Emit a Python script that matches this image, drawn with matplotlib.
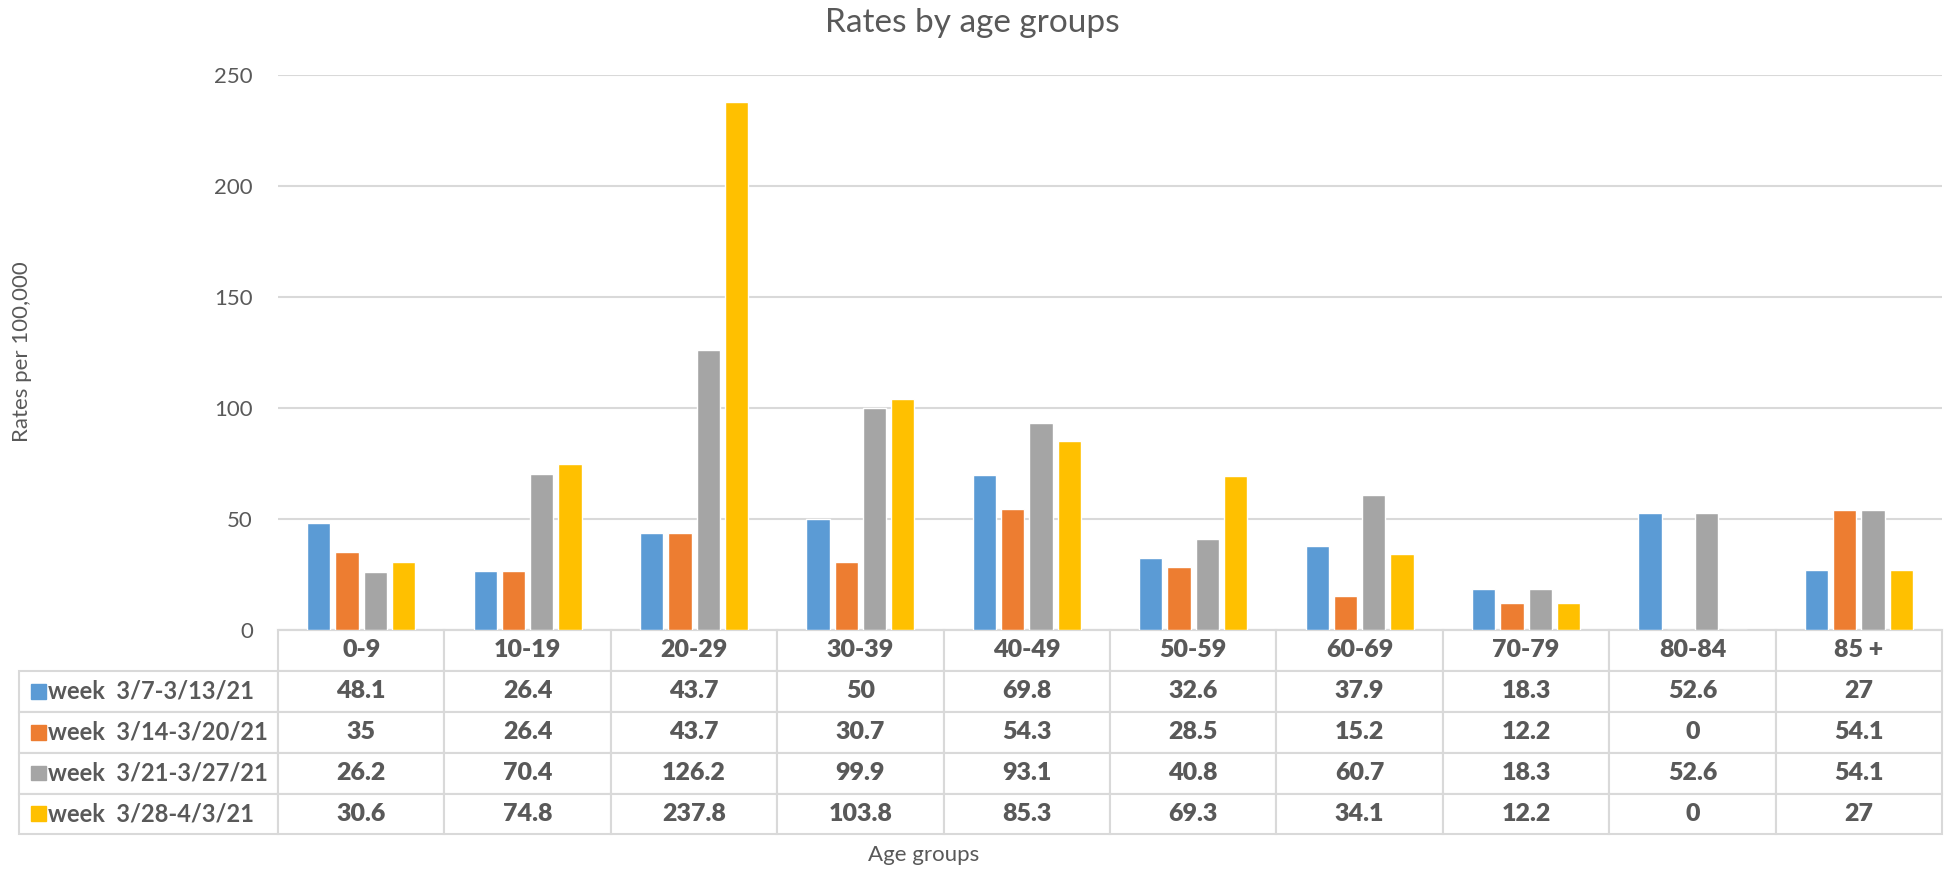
import matplotlib.pyplot as plt
import numpy as np
from matplotlib.patches import Rectangle

# data
age_groups = ['0-9', '10-19', '20-29', '30-39', '40-49', '50-59', '60-69', '70-79', '80-84', '85 +']
weeks = ['week  3/7-3/13/21', 'week  3/14-3/20/21', 'week  3/21-3/27/21', 'week  3/28-4/3/21']
wk1 = [48.1, 26.4, 43.7, 50, 69.8, 32.6, 37.9, 18.3, 52.6, 27]
wk2 = [35, 26.4, 43.7, 30.7, 54.3, 28.5, 15.2, 12.2, 0, 54.1]
wk3 = [26.2, 70.4, 126.2, 99.9, 93.1, 40.8, 60.7, 18.3, 52.6, 54.1]
wk4 = [30.6, 74.8, 237.8, 103.8, 85.3, 69.3, 34.1, 12.2, 0, 27]
series = [wk1, wk2, wk3, wk4]
colors = ['#5B9BD5', '#ED7D31', '#A5A5A5', '#FFC000']

txt = '#595959'
grid = '#D9D9D9'
plt.rcParams['font.family'] = ['Lato', 'DejaVu Sans']

fig = plt.figure(figsize=(19.44, 8.69), dpi=100)
ax = fig.add_axes([0.143, 0.275, 0.856, 0.639])

x = np.arange(len(age_groups)) + 0.5
for k, vals in enumerate(series):
    ax.bar(x + (k - 1.5) * 0.17, vals, width=0.14, color=colors[k],
           edgecolor='white', linewidth=1, zorder=3)

ax.set_xlim(0, len(age_groups))
ax.set_ylim(0, 250)
ax.set_yticks(range(0, 251, 50))
ax.tick_params(axis='y', length=0, labelsize=16, labelcolor=txt, pad=18)
ax.set_xticks([])
ax.grid(axis='y', color=grid, linewidth=1.5, zorder=0)
for s in ['top', 'right', 'left']:
    ax.spines[s].set_visible(False)
ax.spines['bottom'].set_color(grid)
ax.spines['bottom'].set_linewidth(1.5)

# data table
cell_text = [[w] + [('%g' % v) for v in vals] for w, vals in zip(weeks, series)]
col_labels = [''] + age_groups
lab_w = 0.1334 / 0.0856
col_w = [lab_w] + [1.0] * len(age_groups)
x0 = (0.0096 - 0.143) / 0.856
tb = ax.table(cellText=cell_text, colLabels=col_labels, colWidths=col_w,
              cellLoc='center', bbox=[x0, -0.368, 1 - x0, 0.368])
tb.auto_set_font_size(False)
for (r, c), cell in tb.get_celld().items():
    cell.set_edgecolor(grid)
    cell.set_linewidth(1.5)
    cell.get_text().set_color(txt)
    cell.get_text().set_fontweight('heavy')
    cell.get_text().set_fontsize(18)
    if r == 0 and c == 0:
        cell.visible_edges = ''
    if c == 0 and r > 0:
        cell.get_text().set_fontweight('bold')
        cell.get_text().set_fontsize(17)
        cell.get_text().set_ha('left')
        cell._loc = 'left'
        cell.PAD = 0.115

# legend keys in the table
row_h = 0.235 / 5
for k in range(len(series)):
    yc = 0.275 - row_h * (k + 1.5)
    fig.add_artist(Rectangle((0.016, yc - 0.0085), 0.0077, 0.017,
                             transform=fig.transFigure, color=colors[k]))

fig.text(0.5, 0.974, 'Rates by age groups', ha='center', va='center',
         fontsize=24, color=txt)
fig.text(0.475, 0.016, 'Age groups', ha='center', va='center',
         fontsize=16, color=txt)
fig.text(0.0115, 0.595, 'Rates per 100,000', ha='center', va='center',
         rotation=90, fontsize=16, color=txt)

plt.savefig('out.png')
